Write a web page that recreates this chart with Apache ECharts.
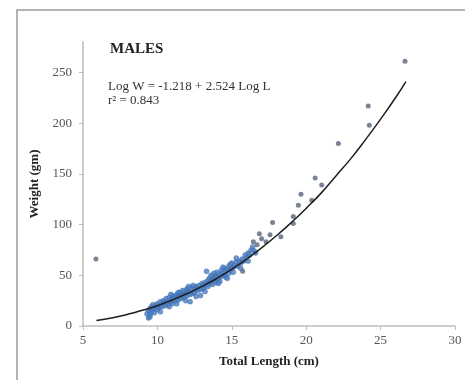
<!DOCTYPE html>
<html>
<head>
<meta charset="utf-8">
<script src="https://cdn.jsdelivr.net/npm/echarts@6/dist/echarts.min.js"></script>
<style>
  html, body { margin: 0; padding: 0; background: #fff; }
  #main { width: 465px; height: 380px; }
</style>
</head>
<body>
<div id="main"></div>
<script>
// tick labels
var xTicks = [5, 10, 15, 20, 25, 30];
var yTicks = [0, 50, 100, 150, 200, 250];

// dense cluster of fish (total length cm, weight gm)
var clusterPts = [
  [9.3,12],[9.4,8],[9.4,15],[9.5,11],[9.5,17],[9.6,14],[9.6,19],[9.7,16],[9.8,13],[9.8,18],
  [9.9,20],[10,16],[10,19],[10,22],[10.1,18],[10.2,21],[10.2,24],[10.3,19],[10.4,22],[10.4,25],
  [10.5,20],[10.5,24],[10.6,23],[10.6,27],[10.7,21],[10.8,25],[10.8,28],[10.9,24],[11,22],[11,26],
  [11,30],[11.1,27],[11.2,25],[11.2,29],[11.3,28],[11.3,31],[11.4,26],[11.5,29],[11.5,33],[11.6,27],
  [11.6,31],[11.7,30],[11.8,28],[11.8,34],[11.9,32],[12,30],[12,35],[12,37],[12.1,33],[12.2,24],
  [12.2,31],[12.3,34],[12.3,38],[12.4,32],[12.5,36],[12.5,33],[12.6,39],[12.7,35],[12.7,37],[12.8,40],
  [12.9,36],[13,38],[13,42],[13.1,40],[13.1,37],[13.2,43],[13.3,41],[13.3,54],[13.4,39],[13.4,45],
  [13.5,42],[13.5,47],[13.6,44],[13.7,41],[13.7,48],[13.8,46],[13.9,43],[13.9,50],[14,45],[14,48],
  [14,53],[14.1,47],[14.2,51],[14.2,44],[14.3,49],[14.3,55],[14.4,52],[14.5,50],[14.5,57],[14.6,54],
  [14.6,48],[14.7,56],[14.8,52],[14.8,59],[14.9,55],[15,57],[15,62],[15.1,58],[15.2,60],[15.3,63],
  [15.4,59],[15.5,64],[15.6,62],[15.7,66],[15.8,64],[16,68],[16.1,72],[16.2,70],[16.3,75],[16.4,78],
  [16.5,74],[10.2,14],[10.8,19],[11.4,33],[11.9,25],[12.4,40],[12.9,30],[13.2,34],[13.6,50],
  [14.1,42],[14.4,58],[14.7,47],[15.1,53],[15.3,67],[15.6,57],[15.9,70],[16.1,64],[16.6,72],
  [12.6,29],[11.3,22],[13.8,52],[14.9,61],[10.9,31],[12.1,39],[9.5,9],[9.7,21],[11.7,35]
];

// scattered larger / odd fish
var outlierPts = [
  [5.87,66],[15.73,54],[16.45,83],[16.7,80],[16.85,91],[17.0,86],[17.3,83],[17.57,90],[17.74,102],
  [18.3,88],[19.13,101],[19.13,108],[19.47,119],[19.65,130],[20.37,124],[20.6,146],[21.04,139],
  [22.16,180],[24.17,217],[24.24,198],[26.64,261]
];

// trend line
var trendPts = [
  [5.9,5.4],[7,8.2],[8,11.5],[9,15.5],[10,20],[11,25.7],[12,32],[13,39],[14,47],[15,56],
  [16,66],[17,77],[18,89],[19,102],[20,116],[21,131],[22,148],[23,165],[24,184],[25,204],
  [26,225],[26.7,241]
];

var serif = '"Liberation Serif", "DejaVu Serif", serif';
var chart = echarts.init(document.getElementById('main'));

var option = {
  animation: false,
  backgroundColor: '#fff',
  grid: { left: 83, right: 10, top: 42, bottom: 54 },
  xAxis: {
    type: 'value',
    min: 5,
    max: 30,
    interval: 5,
    name: 'Total Length (cm)',
    nameLocation: 'middle',
    nameGap: 29,
    nameTextStyle: { fontFamily: serif, fontWeight: 'bold', fontSize: 13, color: '#222' },
    axisLine: { lineStyle: { color: '#bdbdbd', width: 1.5 } },
    axisTick: { show: true, length: 4, lineStyle: { color: '#bdbdbd' } },
    axisLabel: {
      fontFamily: serif, fontSize: 13, color: '#555', margin: 8,
      customValues: xTicks
    },
    splitLine: { show: false }
  },
  yAxis: {
    type: 'value',
    min: 0,
    max: 280,
    interval: 50,
    name: 'Weight (gm)',
    nameLocation: 'middle',
    nameGap: 39,
    nameRotate: 90,
    nameTextStyle: { fontFamily: serif, fontWeight: 'bold', fontSize: 13, color: '#222' },
    axisLine: { show: true, lineStyle: { color: '#bdbdbd', width: 1.5 } },
    axisTick: { show: true, length: 4, lineStyle: { color: '#bdbdbd' }, customValues: yTicks },
    axisLabel: {
      fontFamily: serif, fontSize: 13, color: '#555', margin: 11,
      customValues: yTicks
    },
    splitLine: { show: false }
  },
  graphic: [
    {
      type: 'rect',
      shape: { x: 17, y: 10, width: 460, height: 390 },
      style: { fill: 'none', stroke: '#9a9a9a', lineWidth: 1.5 },
      silent: true
    },
    {
      type: 'text', left: 110, top: 42,
      style: { text: 'MALES', font: 'bold 15px ' + serif, fill: '#222' }
    },
    {
      type: 'text', left: 108, top: 80,
      style: { text: 'Log W = -1.218 + 2.524 Log L', font: '13px ' + serif, fill: '#333' }
    },
    {
      type: 'text', left: 108, top: 94,
      style: { text: 'r\u00b2 = 0.843', font: '13px ' + serif, fill: '#333' }
    }
  ],
  series: [
    {
      type: 'scatter',
      data: clusterPts,
      symbol: 'circle',
      symbolSize: 5,
      itemStyle: { color: '#4a7ec4', borderColor: '#3a64a0', borderWidth: 0.5 },
      z: 2
    },
    {
      type: 'scatter',
      data: outlierPts,
      symbol: 'circle',
      symbolSize: 5,
      itemStyle: { color: '#56657a' },
      z: 2
    },
    {
      type: 'line',
      data: trendPts,
      smooth: true,
      showSymbol: false,
      lineStyle: { color: '#1e1e1e', width: 1.5 },
      z: 3
    }
  ]
};

chart.setOption(option);
</script>
</body>
</html>
